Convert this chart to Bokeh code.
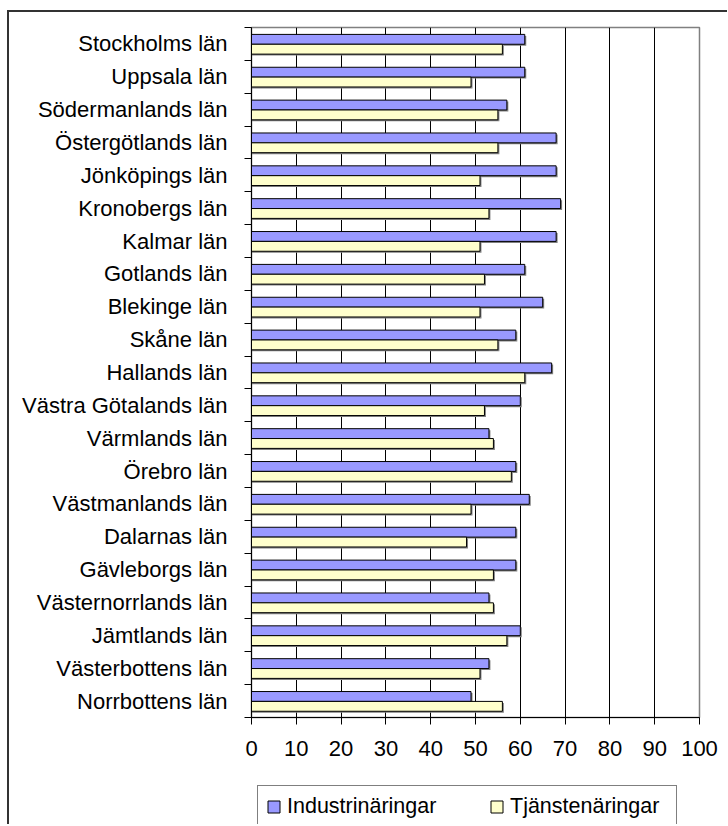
from bokeh.plotting import figure
from bokeh.layouts import column
from bokeh.models import (Range1d, FixedTicker, Legend, LegendItem, ColumnDataSource)
from bokeh.transform import dodge
from bokeh.embed import file_html
from bokeh.resources import INLINE
import numpy as np

counties = ["Stockholms län", "Uppsala län", "Södermanlands län", "Östergötlands län",
            "Jönköpings län", "Kronobergs län", "Kalmar län", "Gotlands län",
            "Blekinge län", "Skåne län", "Hallands län", "Västra Götalands län",
            "Värmlands län", "Örebro län", "Västmanlands län", "Dalarnas län",
            "Gävleborgs län", "Västernorrlands län", "Jämtlands län",
            "Västerbottens län", "Norrbottens län"]
industri = [61, 61, 57, 68, 68, 69, 68, 61, 65, 59, 67, 60, 53, 59, 62, 59, 59, 53, 60, 53, 49]
tjanste = [56, 49, 55, 55, 51, 53, 51, 52, 51, 55, 61, 52, 54, 58, 49, 48, 54, 54, 57, 51, 56]
x_ticks = [0, 10, 20, 30, 40, 50, 60, 70, 80, 90, 100]
series_names = ["Industrinäringar", "Tjänstenäringar"]

FONT = "Liberation Sans"
FS = "22px"
LFS = "21.5px"
BLUE = "#9999FF"
YELLOW = "#FFFFCC"
SH_DX = 0.33   # shadow offset in x (data units ~1.5px)
SH_DY = 0.045  # shadow offset in y

n = len(counties)
idx = np.arange(n)
src = ColumnDataSource(dict(
    y=idx, ind=industri, tj=tjanste,
    ind_sh=np.array(industri) + SH_DX, tj_sh=np.array(tjanste) + SH_DX))

W = 718
H_MAIN = 760
H_LEG = 52

p = figure(width=W, height=H_MAIN, output_backend="svg", toolbar_location=None,
           x_range=Range1d(0, 100), y_range=Range1d(n - 0.5, -0.5),
           min_border_left=242, min_border_right=28, min_border_top=15,
           min_border_bottom=55, background_fill_color="white",
           border_fill_color="white")

p.outline_line_color = "#808080"
p.outline_line_width = 1.5
p.ygrid.visible = False
p.xgrid.grid_line_color = "black"
p.xgrid.grid_line_width = 1
p.xgrid.ticker = FixedTicker(ticks=x_ticks)

# shadows
p.hbar(y=dodge("y", -0.14 + SH_DY), height=0.3, left=0, right="ind_sh", source=src,
       fill_color="#808080", line_color=None)
p.hbar(y=dodge("y", 0.16 + SH_DY), height=0.3, left=0, right="tj_sh", source=src,
       fill_color="#808080", line_color=None)
p.hbar(y=dodge("y", -0.14), height=0.3, left=0, right="ind", source=src,
       fill_color=BLUE, line_color="black", line_width=1)
p.hbar(y=dodge("y", 0.16), height=0.3, left=0, right="tj", source=src,
       fill_color=YELLOW, line_color="black", line_width=1)

# x axis
xa = p.xaxis[0]
xa.ticker = FixedTicker(ticks=x_ticks)
xa.major_tick_out = 7
xa.major_tick_in = 0
xa.minor_tick_out = 0
xa.minor_tick_in = 0
xa.axis_line_color = "black"
xa.major_tick_line_color = "black"
xa.major_label_text_font = FONT
xa.major_label_text_font_size = FS
xa.major_label_text_color = "black"
xa.major_label_standoff = 16

# y axis: labels at centres, ticks at category boundaries
ya = p.yaxis[0]
ya.ticker = FixedTicker(ticks=list(range(n)), minor_ticks=[i - 0.5 for i in range(n + 1)])
ya.major_label_overrides = {i: c for i, c in enumerate(counties)}
ya.major_tick_out = 0
ya.major_tick_in = 0
ya.minor_tick_out = 7
ya.minor_tick_in = 0
ya.minor_tick_line_color = "black"
ya.axis_line_color = "black"
ya.major_label_text_font = FONT
ya.major_label_text_font_size = FS
ya.major_label_text_color = "black"
ya.major_label_standoff = 17

# legend strip (its renderers use the same data, placed below its visible range,
# behind the legend box)
q = figure(width=W, height=H_LEG, output_backend="svg", toolbar_location=None,
           x_range=Range1d(-5, 95), y_range=Range1d(100, 101),
           x_axis_type=None, y_axis_type=None, min_border=0,
           background_fill_color="white", border_fill_color="white")
q.outline_line_color = None
q.grid.visible = False
l_ind = q.hbar(y="y", right="ind", left=0, height=0.3, source=src,
               fill_color=BLUE, line_color="black")
l_tj = q.hbar(y="y", right="tj", left=0, height=0.3, source=src,
              fill_color=YELLOW, line_color="black")

PAD = 8
LH = 24
LEG_TOP = 16
vy = H_LEG - LEG_TOP - (2 * PAD + LH)
legend = Legend(items=[LegendItem(label=series_names[0], renderers=[l_ind]),
                       LegendItem(label=series_names[1], renderers=[l_tj])],
                orientation="horizontal", location=(6, vy), padding=PAD, spacing=44,
                glyph_width=15, glyph_height=15, label_standoff=6, label_height=LH,
                label_width=158,
                label_text_font=FONT, label_text_font_size=LFS, label_text_color="black",
                border_line_color="black", border_line_width=1,
                background_fill_color="white", background_fill_alpha=1, margin=0)
q.add_layout(legend)

layout = column(p, q, spacing=0,
                styles={"border-left": "2px solid #333333", "border-top": "2px solid #333333",
                        "margin-top": "10px", "margin-left": "7px"})

open("out.html", "w").write(file_html(layout, INLINE))
